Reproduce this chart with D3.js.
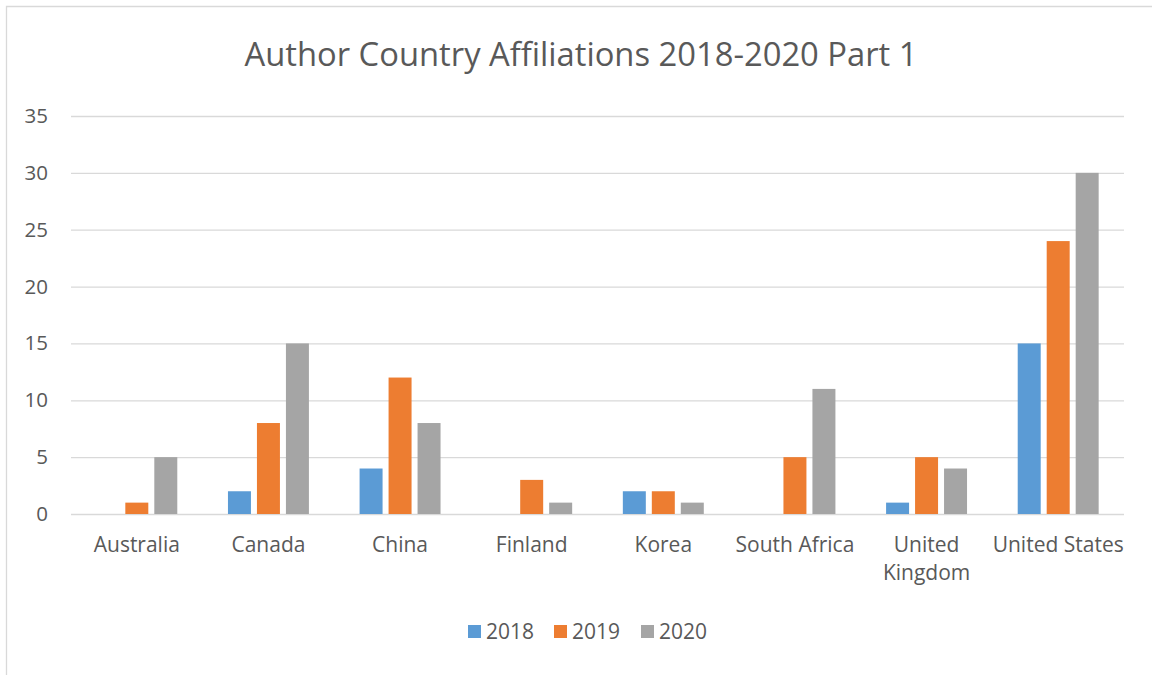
<!DOCTYPE html>
<html>
<head>
<meta charset="utf-8">
<script src="https://cdn.jsdelivr.net/npm/d3@7"></script>
<style>
  body { margin: 0; background: #fff; }
  svg { display: block; font-family: 'Open Sans', sans-serif; }
</style>
</head>
<body>
<svg id="chart" width="1152" height="675"></svg>
<script>
// chart data
const countries = ['Australia', 'Canada', 'China', 'Finland', 'Korea', 'South Africa', 'United Kingdom', 'United States'];
const years = ['2018', '2019', '2020'];
const values2018 = [0, 2, 4, 0, 2, 0, 1, 15];
const values2019 = [1, 8, 12, 3, 2, 5, 5, 24];
const values2020 = [5, 15, 8, 1, 1, 11, 4, 30];
const yTicks = [0, 5, 10, 15, 20, 25, 30, 35];

const seriesValues = { '2018': values2018, '2019': values2019, '2020': values2020 };
const colors = { '2018': '#5B9BD5', '2019': '#ED7D31', '2020': '#A5A5A5' };

const svg = d3.select('#chart');
const margin = { top: 116, right: 28, bottom: 161, left: 71 };
const innerWidth = 1152 - margin.left - margin.right;
const innerHeight = 675 - margin.top - margin.bottom;

// outer chart frame (only top and left edges visible)
svg.append('path')
  .attr('d', 'M6.5,675 V6.5 H1152')
  .attr('fill', 'none')
  .attr('stroke', '#D9D9D9')
  .attr('stroke-width', 1.3);

// title
svg.append('text')
  .attr('x', 581).attr('y', 66)
  .attr('text-anchor', 'middle')
  .attr('fill', '#595959')
  .attr('font-size', 32)
  .attr('textLength', 673)
  .attr('lengthAdjust', 'spacingAndGlyphs')
  .text('Author Country Affiliations 2018-2020 Part 1');

const g = svg.append('g')
  .attr('transform', `translate(${margin.left},${margin.top})`);

const x0 = d3.scaleBand()
  .domain(countries)
  .range([0, innerWidth])
  .paddingInner(0.385)
  .paddingOuter(0.1925);

const x1 = d3.scaleBand()
  .domain(years)
  .range([0, x0.bandwidth()])
  .paddingInner(0.207);

const y = d3.scaleLinear()
  .domain([0, 35])
  .range([innerHeight, 0]);

// y axis with gridlines
const yAxis = g.append('g')
  .attr('class', 'y-axis')
  .call(d3.axisLeft(y).tickValues(yTicks).tickSize(-innerWidth).tickPadding(23));
yAxis.select('.domain').remove();
yAxis.selectAll('.tick line').attr('stroke', '#D9D9D9').attr('stroke-width', 1.3);
yAxis.selectAll('.tick text')
  .attr('fill', '#595959')
  .attr('font-size', 20.5)
  .attr('font-family', "'Open Sans', sans-serif");

// bars
const groups = g.append('g')
  .attr('class', 'bars')
  .selectAll('g')
  .data(countries)
  .join('g')
  .attr('transform', d => `translate(${x0(d)},0)`);

groups.selectAll('rect')
  .data((c, i) => years.map(yr => ({ year: yr, value: seriesValues[yr][i] })))
  .join('rect')
  .attr('x', d => x1(d.year))
  .attr('y', d => y(d.value))
  .attr('width', x1.bandwidth())
  .attr('height', d => y(0) - y(d.value))
  .attr('fill', d => colors[d.year]);

// x axis labels (wrapped like Excel)
const xAxis = g.append('g')
  .attr('class', 'x-axis')
  .attr('transform', `translate(0,${innerHeight})`)
  .call(d3.axisBottom(x0).tickSize(0).tickPadding(0));
xAxis.select('.domain').remove();
xAxis.selectAll('.tick text').each(function(d) {
  const t = d3.select(this);
  t.text(null)
    .attr('y', 38)
    .attr('dy', null)
    .attr('fill', '#595959')
    .attr('font-size', 21)
    .attr('font-family', "'Open Sans', sans-serif");
  const lines = d === 'United Kingdom' ? ['United', 'Kingdom'] : [d];
  lines.forEach((ln, i) => {
    t.append('tspan').attr('x', 0).attr('dy', i === 0 ? 0 : 28).text(ln);
  });
});

// legend
const legend = svg.append('g').attr('class', 'legend');
const legendX = [468, 554, 641];
years.forEach((yr, i) => {
  legend.append('rect')
    .attr('x', legendX[i]).attr('y', 625)
    .attr('width', 13).attr('height', 13)
    .attr('fill', colors[yr]);
  legend.append('text')
    .attr('x', legendX[i] + 18).attr('y', 639)
    .attr('fill', '#595959')
    .attr('font-size', 21)
    .text(yr);
});
</script>
</body>
</html>
